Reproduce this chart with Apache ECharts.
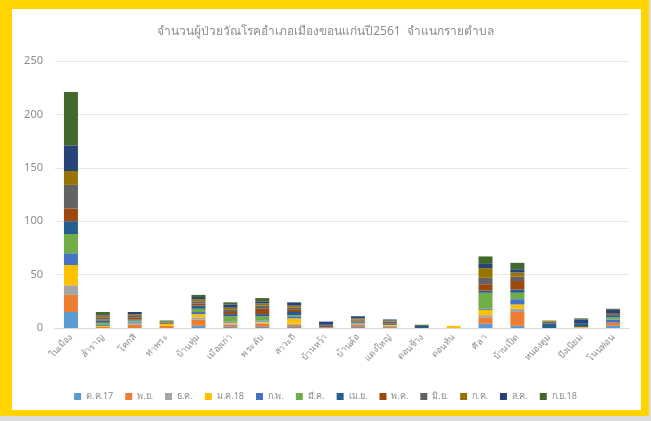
<!DOCTYPE html>
<html>
<head>
<meta charset="utf-8">
<script src="https://cdn.jsdelivr.net/npm/echarts@6/dist/echarts.min.js"></script>
<style>
  html, body { margin: 0; padding: 0; background: #dcdcdc; }
  #frame { position: absolute; left: 0; top: 0; width: 649px; height: 416px; background: #ffd400; }
  #inner { position: absolute; left: 12px; top: 9px; width: 629px; height: 401px; background: #fff; }
  #chart { position: absolute; left: 0; top: 0; width: 651px; height: 421px; }
</style>
</head>
<body>
<div id="frame"></div>
<div id="inner"></div>
<div id="chart"></div>
<script>
// ตำบล
const categories = ['ในเมือง', 'สำราญ', 'โคกสี', 'ท่าพระ', 'บ้านทุ่ม', 'เมืองเก่า', 'พระลับ', 'สาวะถี', 'บ้านหว้า',
  'บ้านค้อ', 'แดงใหญ่', 'ดอนช้าง', 'ดอนหัน', 'ศิลา', 'บ้านเป็ด', 'หนองตูม', 'บึงเนียม', 'โนนท่อน']
const months = ['ต.ค.17', 'พ.ย.', 'ธ.ค.', 'ม.ค.18', 'ก.พ.', 'มี.ค.', 'เม.ย.', 'พ.ค.', 'มิ.ย.', 'ก.ค.', 'ส.ค.', 'ก.ย.18']
const yTicks = [0, 50, 100, 150, 200, 250]

// ค่าแต่ละเดือน เรียงตามตำบล
const oct17 = [15, 0, 0, 0, 2, 1, 1, 1, 0, 1, 0, 0, 0, 4, 2, 0, 0, 2]
const nov = [16, 1, 3, 2, 6, 2, 3, 2, 1, 2, 1, 0, 0, 6, 13, 0, 0, 3]
const dec = [9, 0, 2, 0, 2, 1, 1, 1, 0, 1, 1, 0, 0, 2, 3, 0, 0, 0]
const jan18 = [19, 1, 0, 2, 3, 1, 1, 5, 0, 0, 1, 0, 2, 5, 4, 0, 1, 0]
const feb = [11, 1, 1, 0, 2, 1, 1, 2, 0, 0, 0, 0, 0, 1, 5, 0, 0, 3]
const mar = [18, 2, 1, 0, 3, 5, 4, 1, 0, 1, 0, 0, 0, 15, 6, 0, 0, 2]
const apr = [12, 2, 1, 1, 3, 2, 2, 3, 1, 1, 1, 1, 0, 2, 3, 4, 3, 2]
const may = [12, 1, 2, 0, 2, 2, 5, 2, 0, 1, 0, 0, 0, 6, 8, 0, 0, 1]
const jun = [22, 2, 2, 0, 2, 2, 3, 2, 1, 1, 2, 0, 0, 6, 4, 2, 0, 1]
const jul = [13, 2, 1, 1, 2, 2, 2, 2, 0, 1, 1, 0, 0, 9, 4, 1, 0, 0]
const aug = [24, 1, 2, 0, 2, 3, 2, 3, 3, 2, 1, 1, 0, 4, 3, 0, 4, 3]
const sep18 = [50, 2, 0, 1, 2, 2, 3, 0, 0, 0, 0, 1, 0, 7, 6, 0, 1, 1]

const monthData = [oct17, nov, dec, jan18, feb, mar, apr, may, jun, jul, aug, sep18]
const colors = ['#5B9BD5', '#ED7D31', '#A5A5A5', '#FFC000', '#4472C4', '#70AD47',
  '#255E91', '#9E480E', '#636363', '#997300', '#264478', '#43682B']

const chart = echarts.init(document.getElementById('chart'))
const option = {
  color: colors,
  textStyle: { fontFamily: 'Noto Sans, DejaVu Sans, sans-serif' },
  title: {
    text: 'จำนวนผู้ป่วยวัณโรคอำเภอเมืองขอนแก่นปี2561  จำแนกรายตำบล',
    left: 'center',
    top: 21,
    textStyle: { color: '#8c8c8c', fontSize: 12, fontWeight: 'normal' }
  },
  legend: {
    data: months,
    top: 387,
    left: 'center',
    itemWidth: 7,
    itemHeight: 7,
    itemGap: 12,
    icon: 'rect',
    textStyle: { color: '#8c8c8c', fontSize: 9 }
  },
  grid: { left: 55, right: 22, top: 61, bottom: 93, containLabel: false },
  xAxis: {
    type: 'category',
    data: categories,
    axisTick: { show: false },
    axisLine: { lineStyle: { color: '#d9d9d9' } },
    axisLabel: { rotate: 45, color: '#8c8c8c', fontSize: 9, margin: 8, interval: 0 }
  },
  yAxis: {
    type: 'value',
    min: yTicks[0],
    max: yTicks[yTicks.length - 1],
    interval: 50,
    axisLabel: { color: '#8c8c8c', fontSize: 11, margin: 12 },
    splitLine: { lineStyle: { color: '#e6e6e6' } }
  },
  series: months.map((m, i) => ({
    name: m,
    type: 'bar',
    stack: 'total',
    barWidth: 14,
    data: monthData[i]
  }))
}
chart.setOption(option)
</script>
</body>
</html>
